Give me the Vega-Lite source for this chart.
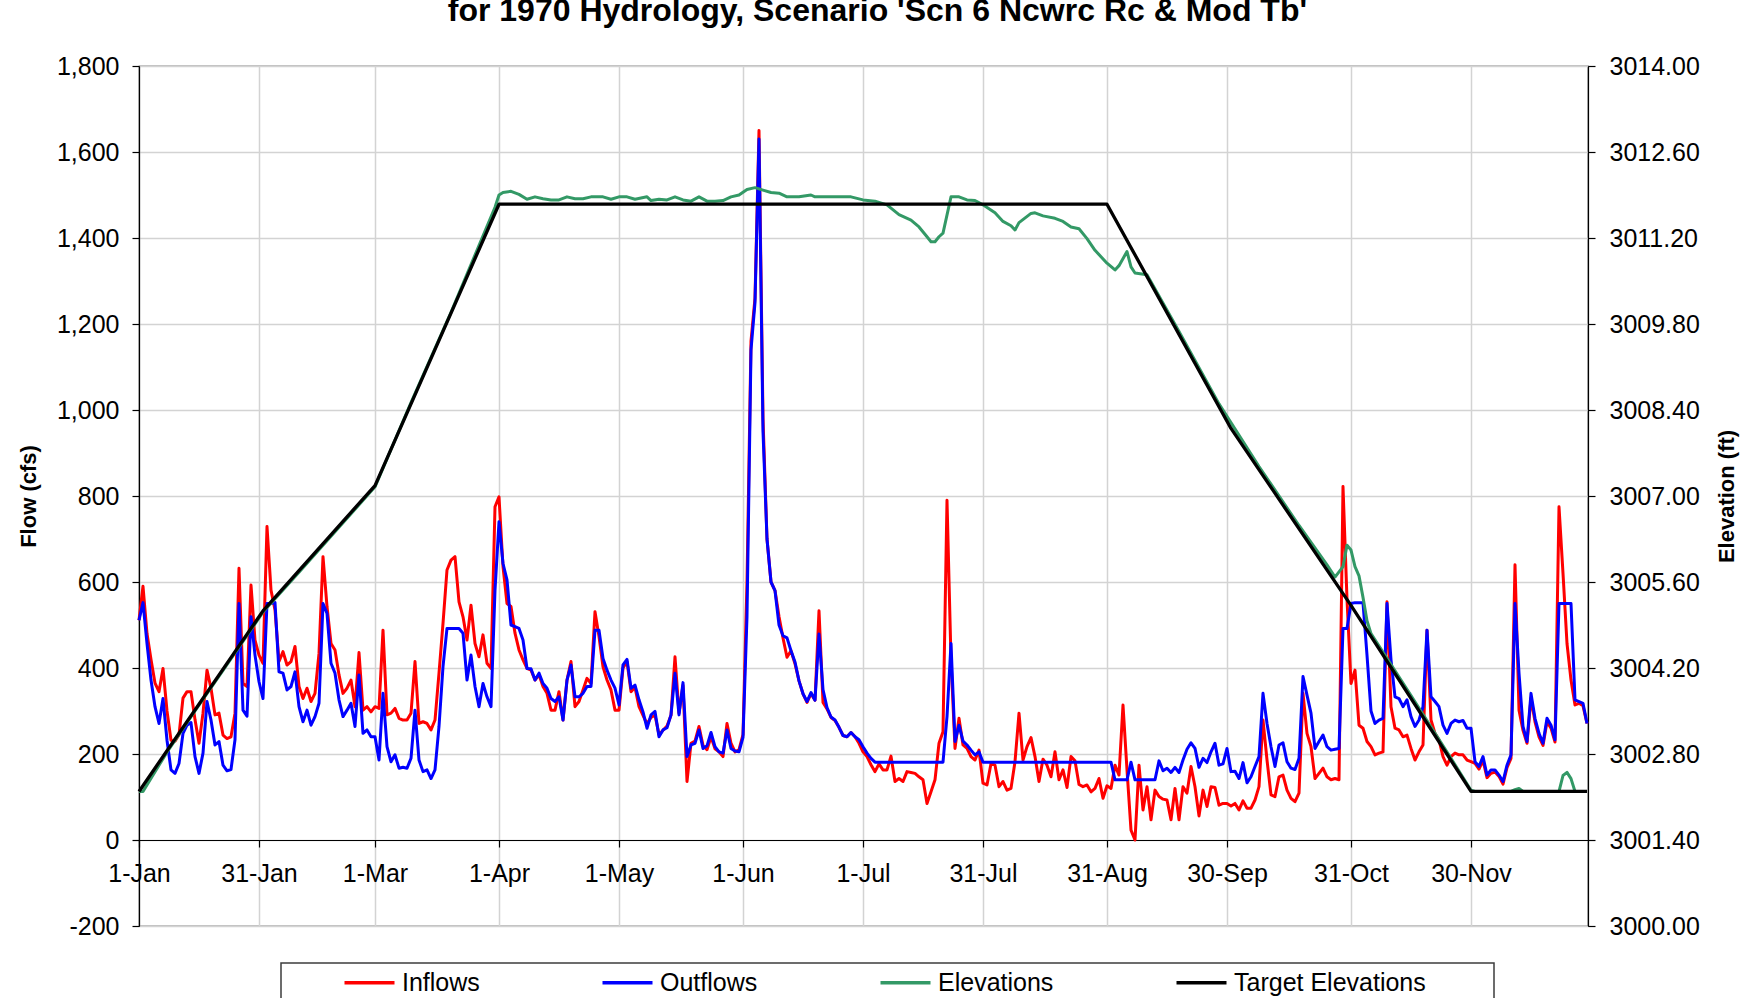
{
"$schema":"https://vega.github.io/schema/vega-lite/v6.json",
"width":1449,"height":860,
"autosize":{"type":"none"},
"padding":{"left":139,"top":66,"right":161,"bottom":72},
"background":"#ffffff",
"title":{"text":"for 1970 Hydrology, Scenario 'Scn 6 Ncwrc Rc & Mod Tb'","font":"Liberation Sans","fontSize":32,"fontWeight":"bold","color":"#000000","anchor":"middle","frame":"bounds","baseline":"alphabetic","offset":1.5},
"datasets":{
"flows":[
{"date":"1970-01-01","inflow":511,"outflow":511},{"date":"1970-01-02","inflow":590,"outflow":552},{"date":"1970-01-03","inflow":480,"outflow":457},{"date":"1970-01-04","inflow":420,"outflow":372},{"date":"1970-01-05","inflow":365,"outflow":310},{"date":"1970-01-06","inflow":345,"outflow":271},{"date":"1970-01-07","inflow":399,"outflow":329},{"date":"1970-01-08","inflow":300,"outflow":232},{"date":"1970-01-09","inflow":232,"outflow":163},{"date":"1970-01-10","inflow":230,"outflow":155},
{"date":"1970-01-11","inflow":245,"outflow":178},{"date":"1970-01-12","inflow":330,"outflow":248},{"date":"1970-01-13","inflow":345,"outflow":267},{"date":"1970-01-14","inflow":345,"outflow":273},{"date":"1970-01-15","inflow":280,"outflow":194},{"date":"1970-01-16","inflow":225,"outflow":155},{"date":"1970-01-17","inflow":295,"outflow":202},{"date":"1970-01-18","inflow":395,"outflow":322},{"date":"1970-01-19","inflow":353,"outflow":279},{"date":"1970-01-20","inflow":291,"outflow":221},
{"date":"1970-01-21","inflow":295,"outflow":229},{"date":"1970-01-22","inflow":244,"outflow":174},{"date":"1970-01-23","inflow":236,"outflow":161},{"date":"1970-01-24","inflow":240,"outflow":164},{"date":"1970-01-25","inflow":295,"outflow":233},{"date":"1970-01-26","inflow":632,"outflow":550},{"date":"1970-01-27","inflow":364,"outflow":302},{"date":"1970-01-28","inflow":357,"outflow":288},{"date":"1970-01-29","inflow":593,"outflow":519},{"date":"1970-01-30","inflow":465,"outflow":430},{"date":"1970-01-31","inflow":430,"outflow":368},
{"date":"1970-02-01","inflow":411,"outflow":329},{"date":"1970-02-02","inflow":729,"outflow":550},{"date":"1970-02-03","inflow":581,"outflow":550},{"date":"1970-02-04","inflow":535,"outflow":552},{"date":"1970-02-05","inflow":415,"outflow":391},{"date":"1970-02-06","inflow":438,"outflow":388},{"date":"1970-02-07","inflow":407,"outflow":349},{"date":"1970-02-08","inflow":415,"outflow":357},{"date":"1970-02-09","inflow":450,"outflow":391},{"date":"1970-02-10","inflow":357,"outflow":310},
{"date":"1970-02-11","inflow":329,"outflow":275},{"date":"1970-02-12","inflow":353,"outflow":302},{"date":"1970-02-13","inflow":322,"outflow":267},{"date":"1970-02-14","inflow":341,"outflow":287},{"date":"1970-02-15","inflow":434,"outflow":318},{"date":"1970-02-16","inflow":659,"outflow":550},{"date":"1970-02-17","inflow":543,"outflow":527},{"date":"1970-02-18","inflow":457,"outflow":411},{"date":"1970-02-19","inflow":442,"outflow":388},{"date":"1970-02-20","inflow":384,"outflow":326},
{"date":"1970-02-21","inflow":341,"outflow":287},{"date":"1970-02-22","inflow":353,"outflow":302},{"date":"1970-02-23","inflow":372,"outflow":318},{"date":"1970-02-24","inflow":310,"outflow":264},{"date":"1970-02-25","inflow":436,"outflow":384},{"date":"1970-02-26","inflow":302,"outflow":248},{"date":"1970-02-27","inflow":310,"outflow":256},{"date":"1970-02-28","inflow":298,"outflow":240},
{"date":"1970-03-01","inflow":310,"outflow":240},{"date":"1970-03-02","inflow":306,"outflow":186},{"date":"1970-03-03","inflow":488,"outflow":341},{"date":"1970-03-04","inflow":291,"outflow":217},{"date":"1970-03-05","inflow":295,"outflow":182},{"date":"1970-03-06","inflow":306,"outflow":198},{"date":"1970-03-07","inflow":283,"outflow":167},{"date":"1970-03-08","inflow":279,"outflow":169},{"date":"1970-03-09","inflow":279,"outflow":167},{"date":"1970-03-10","inflow":295,"outflow":190},
{"date":"1970-03-11","inflow":415,"outflow":302},{"date":"1970-03-12","inflow":271,"outflow":186},{"date":"1970-03-13","inflow":275,"outflow":159},{"date":"1970-03-14","inflow":271,"outflow":163},{"date":"1970-03-15","inflow":256,"outflow":143},{"date":"1970-03-16","inflow":279,"outflow":163},{"date":"1970-03-17","inflow":388,"outflow":264},{"date":"1970-03-18","inflow":504,"outflow":403},{"date":"1970-03-19","inflow":628,"outflow":492},{"date":"1970-03-20","inflow":651,"outflow":492},
{"date":"1970-03-21","inflow":659,"outflow":492},{"date":"1970-03-22","inflow":554,"outflow":492},{"date":"1970-03-23","inflow":519,"outflow":481},{"date":"1970-03-24","inflow":465,"outflow":372},{"date":"1970-03-25","inflow":546,"outflow":430},{"date":"1970-03-26","inflow":457,"outflow":357},{"date":"1970-03-27","inflow":426,"outflow":310},{"date":"1970-03-28","inflow":477,"outflow":364},{"date":"1970-03-29","inflow":411,"outflow":333},{"date":"1970-03-30","inflow":399,"outflow":310},{"date":"1970-03-31","inflow":775,"outflow":581},
{"date":"1970-04-01","inflow":798,"outflow":740},{"date":"1970-04-02","inflow":636,"outflow":643},{"date":"1970-04-03","inflow":550,"outflow":605},{"date":"1970-04-04","inflow":543,"outflow":500},{"date":"1970-04-05","inflow":481,"outflow":496},{"date":"1970-04-06","inflow":442,"outflow":492},{"date":"1970-04-07","inflow":419,"outflow":465},{"date":"1970-04-08","inflow":399,"outflow":399},{"date":"1970-04-09","inflow":395,"outflow":398},{"date":"1970-04-10","inflow":372,"outflow":372},
{"date":"1970-04-11","inflow":384,"outflow":388},{"date":"1970-04-12","inflow":357,"outflow":364},{"date":"1970-04-13","inflow":341,"outflow":353},{"date":"1970-04-14","inflow":302,"outflow":329},{"date":"1970-04-15","inflow":302,"outflow":322},{"date":"1970-04-16","inflow":345,"outflow":333},{"date":"1970-04-17","inflow":279,"outflow":279},{"date":"1970-04-18","inflow":372,"outflow":372},{"date":"1970-04-19","inflow":415,"outflow":407},{"date":"1970-04-20","inflow":310,"outflow":333},
{"date":"1970-04-21","inflow":322,"outflow":333},{"date":"1970-04-22","inflow":349,"outflow":341},{"date":"1970-04-23","inflow":376,"outflow":357},{"date":"1970-04-24","inflow":364,"outflow":357},{"date":"1970-04-25","inflow":531,"outflow":488},{"date":"1970-04-26","inflow":473,"outflow":488},{"date":"1970-04-27","inflow":403,"outflow":422},{"date":"1970-04-28","inflow":372,"outflow":395},{"date":"1970-04-29","inflow":349,"outflow":372},{"date":"1970-04-30","inflow":302,"outflow":353},
{"date":"1970-05-01","inflow":302,"outflow":314},{"date":"1970-05-02","inflow":400,"outflow":407},{"date":"1970-05-03","inflow":415,"outflow":420},{"date":"1970-05-04","inflow":345,"outflow":353},{"date":"1970-05-05","inflow":355,"outflow":360},{"date":"1970-05-06","inflow":310,"outflow":326},{"date":"1970-05-07","inflow":290,"outflow":298},{"date":"1970-05-08","inflow":270,"outflow":260},{"date":"1970-05-09","inflow":285,"outflow":291},{"date":"1970-05-10","inflow":290,"outflow":299},
{"date":"1970-05-11","inflow":245,"outflow":240},{"date":"1970-05-12","inflow":255,"outflow":256},{"date":"1970-05-13","inflow":265,"outflow":261},{"date":"1970-05-14","inflow":290,"outflow":291},{"date":"1970-05-15","inflow":426,"outflow":388},{"date":"1970-05-16","inflow":295,"outflow":291},{"date":"1970-05-17","inflow":360,"outflow":366},{"date":"1970-05-18","inflow":136,"outflow":194},{"date":"1970-05-19","inflow":225,"outflow":221},{"date":"1970-05-20","inflow":230,"outflow":225},
{"date":"1970-05-21","inflow":264,"outflow":256},{"date":"1970-05-22","inflow":220,"outflow":213},{"date":"1970-05-23","inflow":210,"outflow":219},{"date":"1970-05-24","inflow":240,"outflow":250},{"date":"1970-05-25","inflow":212,"outflow":217},{"date":"1970-05-26","inflow":205,"outflow":205},{"date":"1970-05-27","inflow":194,"outflow":202},{"date":"1970-05-28","inflow":271,"outflow":256},{"date":"1970-05-29","inflow":225,"outflow":213},{"date":"1970-05-30","inflow":205,"outflow":207},{"date":"1970-05-31","inflow":210,"outflow":205},
{"date":"1970-06-01","inflow":245,"outflow":239},{"date":"1970-06-02","inflow":600,"outflow":520},{"date":"1970-06-03","inflow":1160,"outflow":1140},{"date":"1970-06-04","inflow":1260,"outflow":1250},{"date":"1970-06-05","inflow":1650,"outflow":1630},{"date":"1970-06-06","inflow":980,"outflow":950},{"date":"1970-06-07","inflow":700,"outflow":700},{"date":"1970-06-08","inflow":600,"outflow":600},{"date":"1970-06-09","inflow":580,"outflow":580},{"date":"1970-06-10","inflow":520,"outflow":500},
{"date":"1970-06-11","inflow":470,"outflow":475},{"date":"1970-06-12","inflow":425,"outflow":470},{"date":"1970-06-13","inflow":440,"outflow":440},{"date":"1970-06-14","inflow":410,"outflow":414},{"date":"1970-06-15","inflow":370,"outflow":370},{"date":"1970-06-16","inflow":340,"outflow":340},{"date":"1970-06-17","inflow":320,"outflow":322},{"date":"1970-06-18","inflow":340,"outflow":343},{"date":"1970-06-19","inflow":325,"outflow":325},{"date":"1970-06-20","inflow":533,"outflow":479},
{"date":"1970-06-21","inflow":320,"outflow":350},{"date":"1970-06-22","inflow":305,"outflow":308},{"date":"1970-06-23","inflow":285,"outflow":286},{"date":"1970-06-24","inflow":278,"outflow":279},{"date":"1970-06-25","inflow":262,"outflow":262},{"date":"1970-06-26","inflow":243,"outflow":243},{"date":"1970-06-27","inflow":240,"outflow":240},{"date":"1970-06-28","inflow":250,"outflow":250},{"date":"1970-06-29","inflow":240,"outflow":240},{"date":"1970-06-30","inflow":225,"outflow":233},
{"date":"1970-07-01","inflow":205,"outflow":217},{"date":"1970-07-02","inflow":194,"outflow":202},{"date":"1970-07-03","inflow":175,"outflow":190},{"date":"1970-07-04","inflow":159,"outflow":181},{"date":"1970-07-05","inflow":177,"outflow":181},{"date":"1970-07-06","inflow":163,"outflow":181},{"date":"1970-07-07","inflow":163,"outflow":181},{"date":"1970-07-08","inflow":195,"outflow":181},{"date":"1970-07-09","inflow":136,"outflow":181},{"date":"1970-07-10","inflow":143,"outflow":181},
{"date":"1970-07-11","inflow":136,"outflow":181},{"date":"1970-07-12","inflow":159,"outflow":181},{"date":"1970-07-13","inflow":157,"outflow":181},{"date":"1970-07-14","inflow":155,"outflow":181},{"date":"1970-07-15","inflow":147,"outflow":181},{"date":"1970-07-16","inflow":140,"outflow":181},{"date":"1970-07-17","inflow":85,"outflow":181},{"date":"1970-07-18","inflow":112,"outflow":181},{"date":"1970-07-19","inflow":140,"outflow":181},{"date":"1970-07-20","inflow":225,"outflow":181},
{"date":"1970-07-21","inflow":252,"outflow":181},{"date":"1970-07-22","inflow":790,"outflow":287},{"date":"1970-07-23","inflow":420,"outflow":457},{"date":"1970-07-24","inflow":213,"outflow":229},{"date":"1970-07-25","inflow":283,"outflow":267},{"date":"1970-07-26","inflow":221,"outflow":230},{"date":"1970-07-27","inflow":213,"outflow":221},{"date":"1970-07-28","inflow":194,"outflow":209},{"date":"1970-07-29","inflow":186,"outflow":198},{"date":"1970-07-30","inflow":209,"outflow":205},{"date":"1970-07-31","inflow":132,"outflow":181},
{"date":"1970-08-01","inflow":128,"outflow":181},{"date":"1970-08-02","inflow":178,"outflow":181},{"date":"1970-08-03","inflow":174,"outflow":181},{"date":"1970-08-04","inflow":124,"outflow":181},{"date":"1970-08-05","inflow":136,"outflow":181},{"date":"1970-08-06","inflow":116,"outflow":181},{"date":"1970-08-07","inflow":120,"outflow":181},{"date":"1970-08-08","inflow":182,"outflow":181},{"date":"1970-08-09","inflow":295,"outflow":181},{"date":"1970-08-10","inflow":186,"outflow":181},
{"date":"1970-08-11","inflow":217,"outflow":181},{"date":"1970-08-12","inflow":238,"outflow":181},{"date":"1970-08-13","inflow":194,"outflow":181},{"date":"1970-08-14","inflow":136,"outflow":181},{"date":"1970-08-15","inflow":188,"outflow":181},{"date":"1970-08-16","inflow":174,"outflow":181},{"date":"1970-08-17","inflow":147,"outflow":181},{"date":"1970-08-18","inflow":205,"outflow":181},{"date":"1970-08-19","inflow":140,"outflow":181},{"date":"1970-08-20","inflow":163,"outflow":181},
{"date":"1970-08-21","inflow":122,"outflow":181},{"date":"1970-08-22","inflow":194,"outflow":181},{"date":"1970-08-23","inflow":184,"outflow":181},{"date":"1970-08-24","inflow":129,"outflow":181},{"date":"1970-08-25","inflow":124,"outflow":181},{"date":"1970-08-26","inflow":128,"outflow":181},{"date":"1970-08-27","inflow":112,"outflow":181},{"date":"1970-08-28","inflow":120,"outflow":181},{"date":"1970-08-29","inflow":143,"outflow":181},{"date":"1970-08-30","inflow":97,"outflow":181},{"date":"1970-08-31","inflow":126,"outflow":181},
{"date":"1970-09-01","inflow":120,"outflow":181},{"date":"1970-09-02","inflow":174,"outflow":140},{"date":"1970-09-03","inflow":151,"outflow":140},{"date":"1970-09-04","inflow":314,"outflow":140},{"date":"1970-09-05","inflow":163,"outflow":140},{"date":"1970-09-06","inflow":23,"outflow":181},{"date":"1970-09-07","inflow":0,"outflow":140},{"date":"1970-09-08","inflow":174,"outflow":140},{"date":"1970-09-09","inflow":70,"outflow":140},{"date":"1970-09-10","inflow":124,"outflow":140},
{"date":"1970-09-11","inflow":47,"outflow":140},{"date":"1970-09-12","inflow":116,"outflow":140},{"date":"1970-09-13","inflow":101,"outflow":184},{"date":"1970-09-14","inflow":95,"outflow":161},{"date":"1970-09-15","inflow":93,"outflow":167},{"date":"1970-09-16","inflow":47,"outflow":157},{"date":"1970-09-17","inflow":120,"outflow":169},{"date":"1970-09-18","inflow":47,"outflow":157},{"date":"1970-09-19","inflow":124,"outflow":186},{"date":"1970-09-20","inflow":109,"outflow":211},
{"date":"1970-09-21","inflow":171,"outflow":226},{"date":"1970-09-22","inflow":124,"outflow":213},{"date":"1970-09-23","inflow":56,"outflow":169},{"date":"1970-09-24","inflow":116,"outflow":190},{"date":"1970-09-25","inflow":78,"outflow":180},{"date":"1970-09-26","inflow":124,"outflow":205},{"date":"1970-09-27","inflow":122,"outflow":225},{"date":"1970-09-28","inflow":81,"outflow":174},{"date":"1970-09-29","inflow":85,"outflow":177},{"date":"1970-09-30","inflow":85,"outflow":213},
{"date":"1970-10-01","inflow":79,"outflow":159},{"date":"1970-10-02","inflow":85,"outflow":160},{"date":"1970-10-03","inflow":70,"outflow":143},{"date":"1970-10-04","inflow":91,"outflow":180},{"date":"1970-10-05","inflow":74,"outflow":133},{"date":"1970-10-06","inflow":74,"outflow":147},{"date":"1970-10-07","inflow":93,"outflow":171},{"date":"1970-10-08","inflow":124,"outflow":194},{"date":"1970-10-09","inflow":279,"outflow":341},{"date":"1970-10-10","inflow":186,"outflow":271},
{"date":"1970-10-11","inflow":105,"outflow":217},{"date":"1970-10-12","inflow":101,"outflow":171},{"date":"1970-10-13","inflow":147,"outflow":221},{"date":"1970-10-14","inflow":151,"outflow":226},{"date":"1970-10-15","inflow":116,"outflow":182},{"date":"1970-10-16","inflow":97,"outflow":167},{"date":"1970-10-17","inflow":89,"outflow":164},{"date":"1970-10-18","inflow":109,"outflow":190},{"date":"1970-10-19","inflow":341,"outflow":380},{"date":"1970-10-20","inflow":248,"outflow":337},
{"date":"1970-10-21","inflow":217,"outflow":295},{"date":"1970-10-22","inflow":143,"outflow":213},{"date":"1970-10-23","inflow":155,"outflow":229},{"date":"1970-10-24","inflow":167,"outflow":244},{"date":"1970-10-25","inflow":147,"outflow":217},{"date":"1970-10-26","inflow":140,"outflow":209},{"date":"1970-10-27","inflow":143,"outflow":211},{"date":"1970-10-28","inflow":140,"outflow":213},{"date":"1970-10-29","inflow":822,"outflow":492},{"date":"1970-10-30","inflow":560,"outflow":492},{"date":"1970-10-31","inflow":364,"outflow":550},
{"date":"1970-11-01","inflow":395,"outflow":552},{"date":"1970-11-02","inflow":267,"outflow":552},{"date":"1970-11-03","inflow":260,"outflow":552},{"date":"1970-11-04","inflow":229,"outflow":430},{"date":"1970-11-05","inflow":217,"outflow":300},{"date":"1970-11-06","inflow":198,"outflow":271},{"date":"1970-11-07","inflow":202,"outflow":279},{"date":"1970-11-08","inflow":205,"outflow":283},{"date":"1970-11-09","inflow":554,"outflow":550},{"date":"1970-11-10","inflow":310,"outflow":419},
{"date":"1970-11-11","inflow":260,"outflow":333},{"date":"1970-11-12","inflow":256,"outflow":329},{"date":"1970-11-13","inflow":240,"outflow":310},{"date":"1970-11-14","inflow":244,"outflow":326},{"date":"1970-11-15","inflow":213,"outflow":287},{"date":"1970-11-16","inflow":186,"outflow":264},{"date":"1970-11-17","inflow":205,"outflow":279},{"date":"1970-11-18","inflow":221,"outflow":310},{"date":"1970-11-19","inflow":488,"outflow":488},{"date":"1970-11-20","inflow":279,"outflow":333},
{"date":"1970-11-21","inflow":248,"outflow":322},{"date":"1970-11-22","inflow":233,"outflow":310},{"date":"1970-11-23","inflow":194,"outflow":267},{"date":"1970-11-24","inflow":174,"outflow":248},{"date":"1970-11-25","inflow":194,"outflow":271},{"date":"1970-11-26","inflow":202,"outflow":279},{"date":"1970-11-27","inflow":198,"outflow":275},{"date":"1970-11-28","inflow":198,"outflow":278},{"date":"1970-11-29","inflow":186,"outflow":260},{"date":"1970-11-30","inflow":182,"outflow":260},
{"date":"1970-12-01","inflow":178,"outflow":182},{"date":"1970-12-02","inflow":165,"outflow":171},{"date":"1970-12-03","inflow":185,"outflow":194},{"date":"1970-12-04","inflow":145,"outflow":151},{"date":"1970-12-05","inflow":155,"outflow":163},{"date":"1970-12-06","inflow":158,"outflow":163},{"date":"1970-12-07","inflow":148,"outflow":151},{"date":"1970-12-08","inflow":130,"outflow":136},{"date":"1970-12-09","inflow":168,"outflow":174},{"date":"1970-12-10","inflow":190,"outflow":198},
{"date":"1970-12-11","inflow":640,"outflow":550},{"date":"1970-12-12","inflow":302,"outflow":388},{"date":"1970-12-13","inflow":255,"outflow":264},{"date":"1970-12-14","inflow":225,"outflow":229},{"date":"1970-12-15","inflow":330,"outflow":341},{"date":"1970-12-16","inflow":275,"outflow":283},{"date":"1970-12-17","inflow":240,"outflow":248},{"date":"1970-12-18","inflow":220,"outflow":225},{"date":"1970-12-19","inflow":275,"outflow":283},{"date":"1970-12-20","inflow":260,"outflow":267},
{"date":"1970-12-21","inflow":228,"outflow":233},{"date":"1970-12-22","inflow":775,"outflow":550},{"date":"1970-12-23","inflow":620,"outflow":550},{"date":"1970-12-24","inflow":457,"outflow":550},{"date":"1970-12-25","inflow":372,"outflow":550},{"date":"1970-12-26","inflow":314,"outflow":326},{"date":"1970-12-27","inflow":318,"outflow":322},{"date":"1970-12-28","inflow":312,"outflow":318},{"date":"1970-12-29","inflow":271,"outflow":271}
],
"elev":[
{"date":"1970-01-01","elev":3002.19},{"date":"1970-01-02","elev":3002.19},{"date":"1970-01-08","elev":3002.83},{"date":"1970-01-15","elev":3003.50},{"date":"1970-01-22","elev":3004.16},{"date":"1970-02-01","elev":3005.11},{"date":"1970-02-10","elev":3005.76},{"date":"1970-02-20","elev":3006.49},{"date":"1970-03-01","elev":3007.15},{"date":"1970-03-10","elev":3008.52},{"date":"1970-03-20","elev":3009.99},{"date":"1970-03-31","elev":3011.70},
{"date":"1970-04-01","elev":3011.90},{"date":"1970-04-02","elev":3011.94},{"date":"1970-04-04","elev":3011.96},{"date":"1970-04-06","elev":3011.91},{"date":"1970-04-08","elev":3011.83},{"date":"1970-04-10","elev":3011.87},{"date":"1970-04-12","elev":3011.84},{"date":"1970-04-14","elev":3011.82},{"date":"1970-04-16","elev":3011.82},{"date":"1970-04-18","elev":3011.87},{"date":"1970-04-20","elev":3011.84},{"date":"1970-04-22","elev":3011.84},{"date":"1970-04-24","elev":3011.87},{"date":"1970-04-27","elev":3011.87},{"date":"1970-04-29","elev":3011.83},
{"date":"1970-05-01","elev":3011.87},{"date":"1970-05-03","elev":3011.87},{"date":"1970-05-05","elev":3011.83},{"date":"1970-05-08","elev":3011.87},{"date":"1970-05-09","elev":3011.81},{"date":"1970-05-11","elev":3011.83},{"date":"1970-05-13","elev":3011.82},{"date":"1970-05-15","elev":3011.87},{"date":"1970-05-17","elev":3011.82},{"date":"1970-05-19","elev":3011.80},{"date":"1970-05-21","elev":3011.87},{"date":"1970-05-23","elev":3011.80},{"date":"1970-05-25","elev":3011.80},{"date":"1970-05-27","elev":3011.81},{"date":"1970-05-29","elev":3011.87},{"date":"1970-05-31","elev":3011.90},
{"date":"1970-06-02","elev":3011.99},{"date":"1970-06-04","elev":3012.02},{"date":"1970-06-06","elev":3011.98},{"date":"1970-06-08","elev":3011.94},{"date":"1970-06-10","elev":3011.93},{"date":"1970-06-12","elev":3011.87},{"date":"1970-06-15","elev":3011.87},{"date":"1970-06-18","elev":3011.90},{"date":"1970-06-19","elev":3011.87},{"date":"1970-06-24","elev":3011.87},{"date":"1970-06-28","elev":3011.87},
{"date":"1970-07-01","elev":3011.82},{"date":"1970-07-04","elev":3011.80},{"date":"1970-07-07","elev":3011.74},{"date":"1970-07-10","elev":3011.58},{"date":"1970-07-13","elev":3011.49},{"date":"1970-07-15","elev":3011.38},{"date":"1970-07-17","elev":3011.22},{"date":"1970-07-18","elev":3011.14},{"date":"1970-07-19","elev":3011.14},{"date":"1970-07-20","elev":3011.22},{"date":"1970-07-21","elev":3011.28},{"date":"1970-07-23","elev":3011.87},{"date":"1970-07-25","elev":3011.87},{"date":"1970-07-27","elev":3011.82},{"date":"1970-07-29","elev":3011.81},{"date":"1970-07-31","elev":3011.74},
{"date":"1970-08-03","elev":3011.61},{"date":"1970-08-05","elev":3011.47},{"date":"1970-08-07","elev":3011.40},{"date":"1970-08-08","elev":3011.33},{"date":"1970-08-09","elev":3011.45},{"date":"1970-08-12","elev":3011.60},{"date":"1970-08-13","elev":3011.61},{"date":"1970-08-15","elev":3011.56},{"date":"1970-08-18","elev":3011.52},{"date":"1970-08-20","elev":3011.47},{"date":"1970-08-22","elev":3011.38},{"date":"1970-08-24","elev":3011.35},{"date":"1970-08-26","elev":3011.19},{"date":"1970-08-28","elev":3011.00},{"date":"1970-08-31","elev":3010.79},
{"date":"1970-09-02","elev":3010.68},{"date":"1970-09-03","elev":3010.75},{"date":"1970-09-05","elev":3010.98},{"date":"1970-09-06","elev":3010.73},{"date":"1970-09-07","elev":3010.63},{"date":"1970-09-10","elev":3010.60},{"date":"1970-09-18","elev":3009.68},{"date":"1970-09-28","elev":3008.50},
{"date":"1970-10-08","elev":3007.48},{"date":"1970-10-18","elev":3006.52},{"date":"1970-10-25","elev":3005.88},{"date":"1970-10-27","elev":3005.68},{"date":"1970-10-29","elev":3005.85},{"date":"1970-10-30","elev":3006.20},{"date":"1970-10-31","elev":3006.12},
{"date":"1970-11-01","elev":3005.85},{"date":"1970-11-02","elev":3005.70},{"date":"1970-11-03","elev":3005.35},{"date":"1970-11-04","elev":3004.97},{"date":"1970-11-05","elev":3004.76},{"date":"1970-11-15","elev":3003.75},{"date":"1970-11-25","elev":3002.73},{"date":"1970-11-30","elev":3002.21},
{"date":"1970-12-01","elev":3002.19},{"date":"1970-12-10","elev":3002.19},{"date":"1970-12-11","elev":3002.22},{"date":"1970-12-12","elev":3002.24},{"date":"1970-12-13","elev":3002.19},{"date":"1970-12-22","elev":3002.19},{"date":"1970-12-23","elev":3002.45},{"date":"1970-12-24","elev":3002.50},{"date":"1970-12-25","elev":3002.40},{"date":"1970-12-26","elev":3002.19},{"date":"1970-12-29","elev":3002.19}
],
"target":[
{"date":"1970-01-01","target":3002.19},{"date":"1970-02-01","target":3005.13},{"date":"1970-03-01","target":3007.17},{"date":"1970-04-01","target":3011.75},{"date":"1970-08-31","target":3011.75},{"date":"1970-10-01","target":3008.10},{"date":"1970-10-31","target":3005.22},{"date":"1970-11-30","target":3002.19},{"date":"1970-12-29","target":3002.19}
]
},
"layer":[
{"data":{"name":"flows"},
 "layer":[
  {"mark":{"type":"line","strokeWidth":3,"strokeJoin":"round"},
   "encoding":{
    "x":{"field":"date","type":"temporal","scale":{"type":"utc","domain":[{"year":1970,"month":1,"date":1,"utc":true},{"year":1970,"month":12,"date":29,"hours":6,"utc":true}]},
     "axis":{"values":[{"year":1970,"month":1,"date":1,"utc":true},{"year":1970,"month":1,"date":31,"utc":true},{"year":1970,"month":3,"date":1,"utc":true},{"year":1970,"month":4,"date":1,"utc":true},{"year":1970,"month":5,"date":1,"utc":true},{"year":1970,"month":6,"date":1,"utc":true},{"year":1970,"month":7,"date":1,"utc":true},{"year":1970,"month":7,"date":31,"utc":true},{"year":1970,"month":8,"date":31,"utc":true},{"year":1970,"month":9,"date":30,"utc":true},{"year":1970,"month":10,"date":31,"utc":true},{"year":1970,"month":11,"date":30,"utc":true}],
      "labelExpr":"utcFormat(datum.value, '%-d-%b')","offset":-86,"title":null,"labelPadding":14,"labelFlush":false,"labelOverlap":false,"grid":true,"tickSize":7}},
    "y":{"field":"inflow","type":"quantitative","scale":{"domain":[-200,1800],"nice":false,"zero":false},
     "axis":{"title":"Flow (cfs)","values":[-200,0,200,400,600,800,1000,1200,1400,1600,1800],"labelExpr":"datum.value < 0 ? '-' + format(-datum.value, ',') : format(datum.value, ',')","grid":true,"labelPadding":13,"titlePadding":16,"tickSize":7}},
    "color":{"datum":"Inflows","type":"nominal","title":"\u00a0","scale":{"domain":["Inflows","Outflows","Elevations","Target Elevations"],"range":["#FF0000","#0000FF","#339966","#000000"]},
     "legend":{"orient":"none","legendX":142,"legendY":897,"direction":"horizontal","titleOrient":"left","titlePadding":51,"symbolType":"M-5,0H5","symbolSize":100,"symbolOffset":18,"labelOffset":20,"labelExpr":"datum.label == 'Target Elevations' ? datum.label + '\u2800\u2800\u00a0\u2800' : datum.label"}}
   }},
  {"mark":{"type":"line","strokeWidth":3,"strokeJoin":"round"},
   "encoding":{
    "x":{"field":"date","type":"temporal"},
    "y":{"field":"outflow","type":"quantitative","axis":{"title":"Flow (cfs)"}},
    "color":{"datum":"Outflows","type":"nominal","title":"\u00a0"}
   }}
 ]},
{"layer":[
  {"data":{"name":"elev"},
   "mark":{"type":"line","strokeWidth":3,"strokeJoin":"round"},
   "encoding":{
    "x":{"field":"date","type":"temporal"},
    "y":{"field":"elev","type":"quantitative","scale":{"domain":[3000,3014],"nice":false,"zero":false},
     "axis":{"orient":"right","title":"Elevation (ft)","values":[3000,3001.4,3002.8,3004.2,3005.6,3007,3008.4,3009.8,3011.2,3012.6,3014],"format":".2f","grid":false,"labelPadding":14,"titlePadding":17,"titleAngle":270,"titleBaseline":"top","tickSize":7}},
    "color":{"datum":"Elevations","type":"nominal","title":"\u00a0"}
   }},
  {"data":{"name":"target"},
   "mark":{"type":"line","strokeWidth":3.3,"strokeJoin":"round"},
   "encoding":{
    "x":{"field":"date","type":"temporal"},
    "y":{"field":"target","type":"quantitative","axis":{"title":"Elevation (ft)","orient":"right"}},
    "color":{"datum":"Target Elevations","type":"nominal","title":"\u00a0"}
   }}
 ]}
],
"resolve":{"scale":{"y":"independent"}},
"config":{
 "view":{"stroke":"#000000","strokeWidth":1.2},
 "axis":{"labelFont":"Liberation Sans","labelFontSize":25,"labelColor":"#000000","titleFont":"Liberation Sans","titleFontSize":22,"titleFontWeight":"bold","titleColor":"#000000","domainColor":"#000000","domainWidth":1.2,"tickColor":"#000000","tickWidth":1.2,"gridColor":"#D3D3D3","gridWidth":1.5},
 "legend":{"symbolStrokeWidth":3.5,"labelFont":"Liberation Sans","labelFontSize":25,"labelColor":"#000000","labelLimit":600,"columnPadding":115,"padding":7,"strokeColor":"#3C3C3C","strokeWidth":1.5,"fillColor":"#FFFFFF","titleFont":"Liberation Sans","titleFontSize":25,"titleColor":"#000000"}
}
}
